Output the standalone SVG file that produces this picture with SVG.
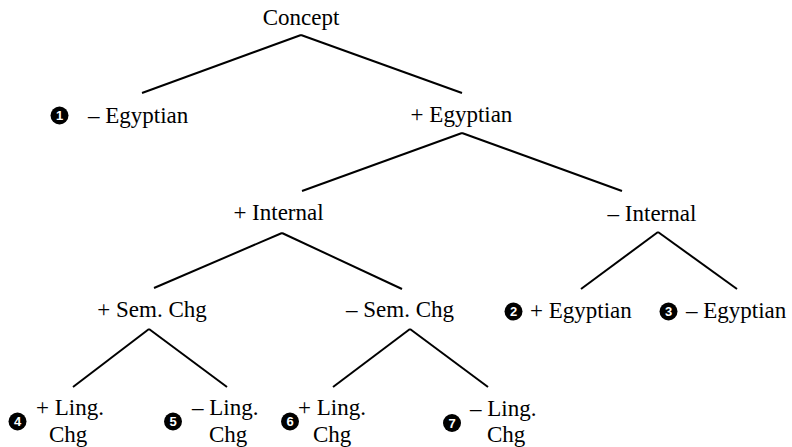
<svg xmlns="http://www.w3.org/2000/svg" width="792" height="447" viewBox="0 0 792 447">
<style>
text.l{font-family:"Liberation Serif","Times New Roman",serif;font-size:23px;fill:#000}
.m{text-anchor:middle}
circle.b{fill:#000}
text.n{font-family:"Liberation Sans",Arial,sans-serif;font-size:13px;font-weight:bold;fill:#fff;text-anchor:middle}
#edges line{stroke:#000;stroke-width:2;stroke-linecap:butt}
</style>
<rect width="792" height="447" fill="#fff"/>
<g id="edges">
<line x1="301" y1="35" x2="142" y2="93"/>
<line x1="301" y1="35" x2="462" y2="93"/>
<line x1="462" y1="133" x2="302" y2="191"/>
<line x1="462" y1="133" x2="622" y2="191"/>
<line x1="282" y1="233" x2="154" y2="288"/>
<line x1="282" y1="233" x2="402" y2="289"/>
<line x1="658" y1="232" x2="581" y2="289"/>
<line x1="658" y1="232" x2="737" y2="289"/>
<line x1="149" y1="329" x2="73" y2="387"/>
<line x1="149" y1="329" x2="227" y2="387"/>
<line x1="410" y1="329" x2="333" y2="387"/>
<line x1="410" y1="329" x2="488" y2="387"/>
</g>
<g id="concept"><text class="l m" x="301" y="25">Concept</text></g>
<g id="n1"><circle class="b" cx="59.5" cy="115.5" r="9"/><text class="n" x="59.5" y="120">1</text><text class="l" x="88" y="123">– Egyptian</text></g>
<g id="plusEgyptian"><text class="l m" x="461.5" y="122">+ Egyptian</text></g>
<g id="plusInternal"><text class="l m" x="278.5" y="220">+ Internal</text></g>
<g id="minusInternal"><text class="l m" x="652" y="221">– Internal</text></g>
<g id="plusSem"><text class="l m" x="152" y="317">+ Sem. Chg</text></g>
<g id="minusSem"><text class="l m" x="400" y="317">– Sem. Chg</text></g>
<g id="n2"><circle class="b" cx="513.5" cy="311.5" r="9"/><text class="n" x="513.5" y="316">2</text><text class="l" x="530" y="318">+ Egyptian</text></g>
<g id="n3"><circle class="b" cx="668.5" cy="311.5" r="9"/><text class="n" x="668.5" y="316">3</text><text class="l" x="686" y="318">– Egyptian</text></g>
<g id="n4"><circle class="b" cx="17.5" cy="421.5" r="9"/><text class="n" x="17.5" y="426">4</text><text class="l" x="36" y="415">+ Ling.</text><text class="l" x="49" y="442">Chg</text></g>
<g id="n5"><circle class="b" cx="173" cy="421.5" r="9"/><text class="n" x="173" y="426">5</text><text class="l" x="192" y="415">– Ling.</text><text class="l" x="209" y="442">Chg</text></g>
<g id="n6"><circle class="b" cx="290" cy="421.5" r="9"/><text class="n" x="290" y="426">6</text><text class="l" x="298" y="415">+ Ling.</text><text class="l" x="313" y="442">Chg</text></g>
<g id="n7"><circle class="b" cx="452" cy="423" r="9"/><text class="n" x="452" y="427.5">7</text><text class="l" x="470" y="416">– Ling.</text><text class="l" x="487" y="442">Chg</text></g>
</svg>
